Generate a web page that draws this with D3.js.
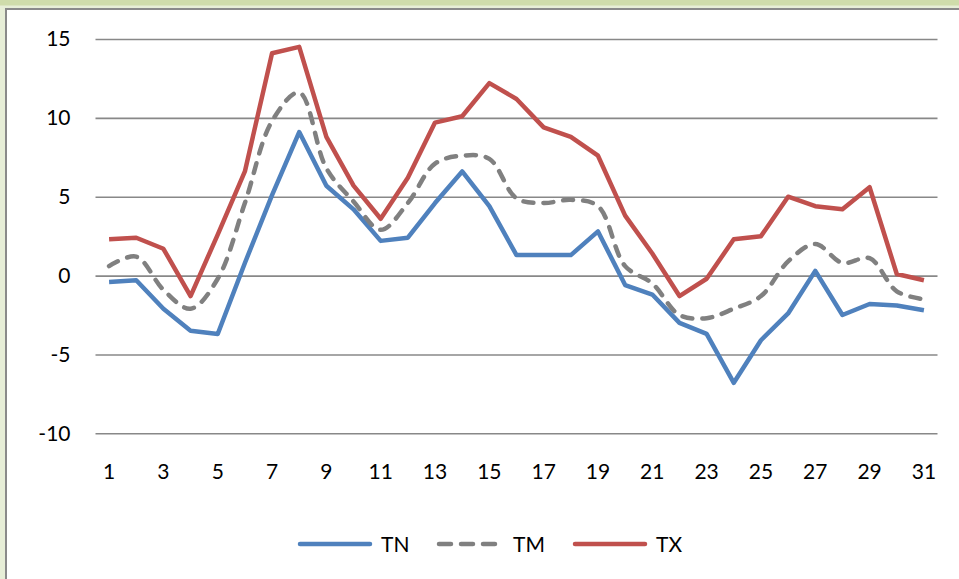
<!DOCTYPE html>
<html>
<head>
<meta charset="utf-8">
<script src="https://cdn.jsdelivr.net/npm/d3@7"></script>
<style>
  body { margin: 0; background: #e7eed7; }
  .tick text { font-family: Lato, "Open Sans", sans-serif; }
</style>
</head>
<body>
<div id="chart"></div>
<script>
// Data
var days = d3.range(1, 32);
var tn = [-0.4, -0.3, -2.1, -3.5, -3.7, 0.8, 5.1, 9.1, 5.7, 4.2, 2.2, 2.4, 4.6, 6.6, 4.4, 1.3,
  1.3, 1.3, 2.8, -0.6, -1.2, -3.0, -3.7, -6.8, -4.1, -2.4, 0.3, -2.5, -1.8, -1.9, -2.2];
var tm = [0.6, 1.2, -0.9, -2.1, -0.2, 4.6, 9.8, 11.6, 6.8, 4.7, 2.9, 4.6, 7.1, 7.6, 7.4, 4.9,
  4.6, 4.8, 4.4, 0.6, -0.5, -2.5, -2.7, -2.1, -1.3, 0.9, 2.0, 0.8, 1.1, -1.0, -1.5];
var tx = [2.3, 2.4, 1.7, -1.3, 2.6, 6.6, 14.1, 14.5, 8.8, 5.7, 3.6, 6.2, 9.7, 10.1, 12.2, 11.2,
  9.4, 8.8, 7.6, 3.8, 1.4, -1.3, -0.2, 2.3, 2.5, 5.0, 4.4, 4.2, 5.6, 0.1, -0.3];
var yTicks = [-10, -5, 0, 5, 10, 15];
var seriesNames = ["TN", "TM", "TX"];

var svgWidth = 959;
var svgHeight = 579;

var svg = d3.select("#chart")
  .append("svg")
  .attr("width", svgWidth)
  .attr("height", svgHeight)
  .style("display", "block");

// Frame: darker band on top, white chart area with grey border
svg.append("rect")
  .attr("x", 0).attr("y", 0)
  .attr("width", svgWidth).attr("height", 5.5)
  .attr("fill", "#cfdcab");

svg.append("rect")
  .attr("x", 6).attr("y", 9)
  .attr("width", svgWidth + 10).attr("height", svgHeight + 10)
  .attr("fill", "white")
  .attr("stroke", "#8a8a8a")
  .attr("stroke-width", 2);

// Scales
var xScale = d3.scaleBand()
  .domain(days)
  .range([95.5, 937.5]);

var yScale = d3.scaleLinear()
  .domain([-10, 15])
  .range([433.3, 39]);

var xc = d => xScale(d) + xScale.bandwidth() / 2;

// Gridlines + y labels (plain hyphen for negatives)
var leftAxis = d3.axisLeft(yScale)
  .tickValues(yTicks)
  .tickFormat(d => String(d))
  .tickSize(-(937.5 - 95.5))
  .tickPadding(25);

var yAxisG = svg.append("g")
  .attr("transform", "translate(95.5, 0)")
  .call(leftAxis);
yAxisG.select(".domain").remove();
yAxisG.selectAll(".tick line")
  .attr("stroke", "#888")
  .attr("stroke-width", 1.6);
yAxisG.selectAll(".tick text")
  .attr("font-size", "21px")
  .attr("fill", "#000");

// X labels (odd days only)
var bottomAxis = d3.axisBottom(xScale)
  .tickValues(days.filter(d => d % 2 === 1))
  .tickSize(0)
  .tickPadding(0);

var xAxisG = svg.append("g")
  .attr("transform", "translate(0, 464)")
  .call(bottomAxis);
xAxisG.select(".domain").remove();
xAxisG.selectAll(".tick text")
  .attr("font-size", "21px")
  .attr("fill", "#000");

// Lines
var series = [
  { name: "TN", values: tn, color: "#4f81bd", dash: null, curve: d3.curveLinear },
  { name: "TM", values: tm, color: "#808080", dash: "10,10", curve: d3.curveCatmullRom.alpha(0.5) },
  { name: "TX", values: tx, color: "#c0504d", dash: null, curve: d3.curveLinear }
];

series.forEach(function(s) {
  var line = d3.line()
    .x((d, i) => xc(days[i]))
    .y(d => yScale(d))
    .curve(s.curve);

  svg.append("path")
    .datum(s.values)
    .attr("d", line)
    .attr("fill", "none")
    .attr("stroke", s.color)
    .attr("stroke-width", 4.5)
    .attr("stroke-linejoin", "round")
    .attr("stroke-linecap", s.dash ? "round" : "butt")
    .attr("stroke-dasharray", s.dash);
});

// Legend
var legendX = [298, 437, 573];
var legend = svg.selectAll(".legend")
  .data(series)
  .enter()
  .append("g")
  .attr("class", "legend")
  .attr("transform", (d, i) => `translate(${legendX[i]}, 544)`);

legend.append("line")
  .attr("x1", 2).attr("x2", d => d.dash ? 60 : 72)
  .attr("y1", 0).attr("y2", 0)
  .attr("stroke", d => d.color)
  .attr("stroke-width", 4.5)
  .attr("stroke-linecap", "round")
  .attr("stroke-dasharray", d => d.dash ? "12,10" : null);

legend.append("text")
  .attr("x", (d, i) => i === 1 ? 76 : 83)
  .attr("y", 0)
  .attr("dy", "0.36em")
  .attr("font-family", "Lato, 'Open Sans', sans-serif")
  .attr("font-size", "21px")
  .attr("fill", "#000")
  .text(d => d.name);
</script>
</body>
</html>
